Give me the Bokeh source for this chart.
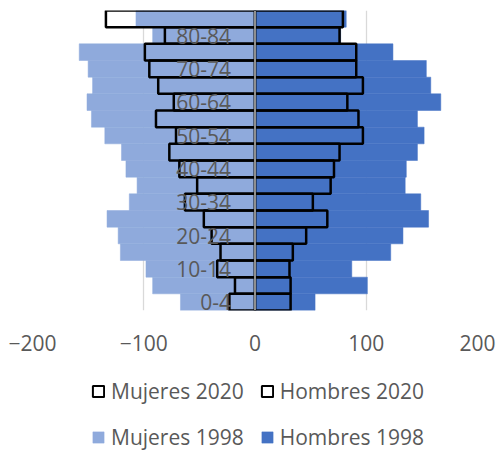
from bokeh.plotting import figure
from bokeh.layouts import column
from bokeh.models import FactorRange, Range1d, FixedTicker, Span, Legend, LegendItem, ColumnDataSource
from bokeh.core.properties import value
from bokeh.embed import file_html
from bokeh.resources import INLINE

categories = ["0-4", "5-9", "10-14", "15-19", "20-24", "25-29", "30-34", "35-39", "40-44",
              "45-49", "50-54", "55-59", "60-64", "65-69", "70-74", "75-79", "80-84", "85+"]
mujeres_1998 = [-67, -92, -98, -121, -123, -133, -113, -106, -116, -120, -135, -147, -151, -146, -150, -158, -92, -107]
hombres_1998 = [54, 101, 87, 122, 133, 156, 149, 135, 136, 146, 152, 146, 167, 158, 154, 124, 77, 82]
mujeres_2020 = [-23, -18, -34, -31, -39, -46, -63, -52, -68, -77, -71, -89, -73, -87, -95, -99, -81, -134]
hombres_2020 = [32, 32, 31, 34, 46, 65, 52, 68, 71, 76, 97, 93, 83, 97, 91, 91, 76, 79]
shown_labels = categories[::2]
x_ticks = [-200, -100, 0, 100, 200]
series_labels = ["Mujeres 2020", "Hombres 2020", "Mujeres 1998", "Hombres 1998"]

FONT = "Open Sans"
FS = "21px"
GREY = "#595959"
C_MUJ = "#8faadc"
C_HOM = "#4472c4"

src = ColumnDataSource(dict(cat=categories, m98=mujeres_1998, h98=hombres_1998,
                            m20=mujeres_2020, h20=hombres_2020))

p = figure(width=496, height=365, output_backend="svg", toolbar_location=None,
           y_range=FactorRange(factors=categories, range_padding=0),
           x_range=Range1d(-200, 200),
           min_border_left=32, min_border_right=19, min_border_top=10, min_border_bottom=55)
p.outline_line_color = None
p.background_fill_color = "white"
p.border_fill_color = "white"

def add_bars(fig, width20):
    rm98 = fig.hbar(y="cat", left="m98", right=0, height=1.0, source=src,
                    fill_color=C_MUJ, line_color=C_MUJ, line_width=0.5)
    rh98 = fig.hbar(y="cat", left=0, right="h98", height=1.0, source=src,
                    fill_color=C_HOM, line_color=C_HOM, line_width=0.5)
    rm20 = fig.hbar(y="cat", left="m20", right=0, height=1.0, source=src,
                    fill_color=None, line_color="black", line_width=width20)
    rh20 = fig.hbar(y="cat", left=0, right="h20", height=1.0, source=src,
                    fill_color=None, line_color="black", line_width=width20)
    return rm20, rh20, rm98, rh98

add_bars(p, 2.5)

p.add_layout(Span(location=0, dimension="height", line_color="#bfbfbf", line_width=1.5))

lab_src = ColumnDataSource(dict(cat=shown_labels, x=[0] * len(shown_labels)))
p.text(x="x", y="cat", text="cat", source=lab_src, x_offset=-24,
       text_align="right", text_baseline="middle", text_color=GREY,
       text_font=value(FONT), text_font_size=FS)

p.yaxis.visible = False
p.ygrid.visible = False
p.xaxis.ticker = FixedTicker(ticks=x_ticks)
p.xgrid.ticker = FixedTicker(ticks=x_ticks)
p.xgrid.grid_line_color = "#d9d9d9"
p.xgrid.grid_line_width = 1.3
p.xaxis.axis_line_color = None
p.xaxis.major_tick_line_color = None
p.xaxis.minor_tick_line_color = None
p.xaxis.major_tick_out = 0
p.xaxis.major_tick_in = 0
p.xaxis.major_label_standoff = 24
p.xaxis.major_label_text_font = FONT
p.xaxis.major_label_text_font_size = FS
p.xaxis.major_label_text_color = GREY

# legend strip below the chart (same series, renderers hidden; only the legend shows)
pl = figure(width=496, height=88, output_backend="svg", toolbar_location=None,
            y_range=FactorRange(factors=categories), x_range=Range1d(-200, 200),
            x_axis_location=None, y_axis_location=None, min_border=0)
pl.outline_line_color = None
pl.grid.visible = False
pl.border_fill_color = "white"
leg_renderers = add_bars(pl, 2)
for r in leg_renderers:
    r.visible = False

legend = Legend(items=[LegendItem(label=lab, renderers=[r])
                       for lab, r in zip(series_labels, leg_renderers)],
                orientation="horizontal", ncols=2, location=(59, 1),
                label_text_font=FONT, label_text_font_size=FS, label_text_color=GREY,
                glyph_width=14, glyph_height=14, label_standoff=6, spacing=16,
                label_height=30, padding=0, margin=0, border_line_color=None,
                background_fill_alpha=0, inactive_fill_alpha=0)
pl.add_layout(legend, "center")

open("out.html", "w").write(file_html(column(p, pl, spacing=0), INLINE))
